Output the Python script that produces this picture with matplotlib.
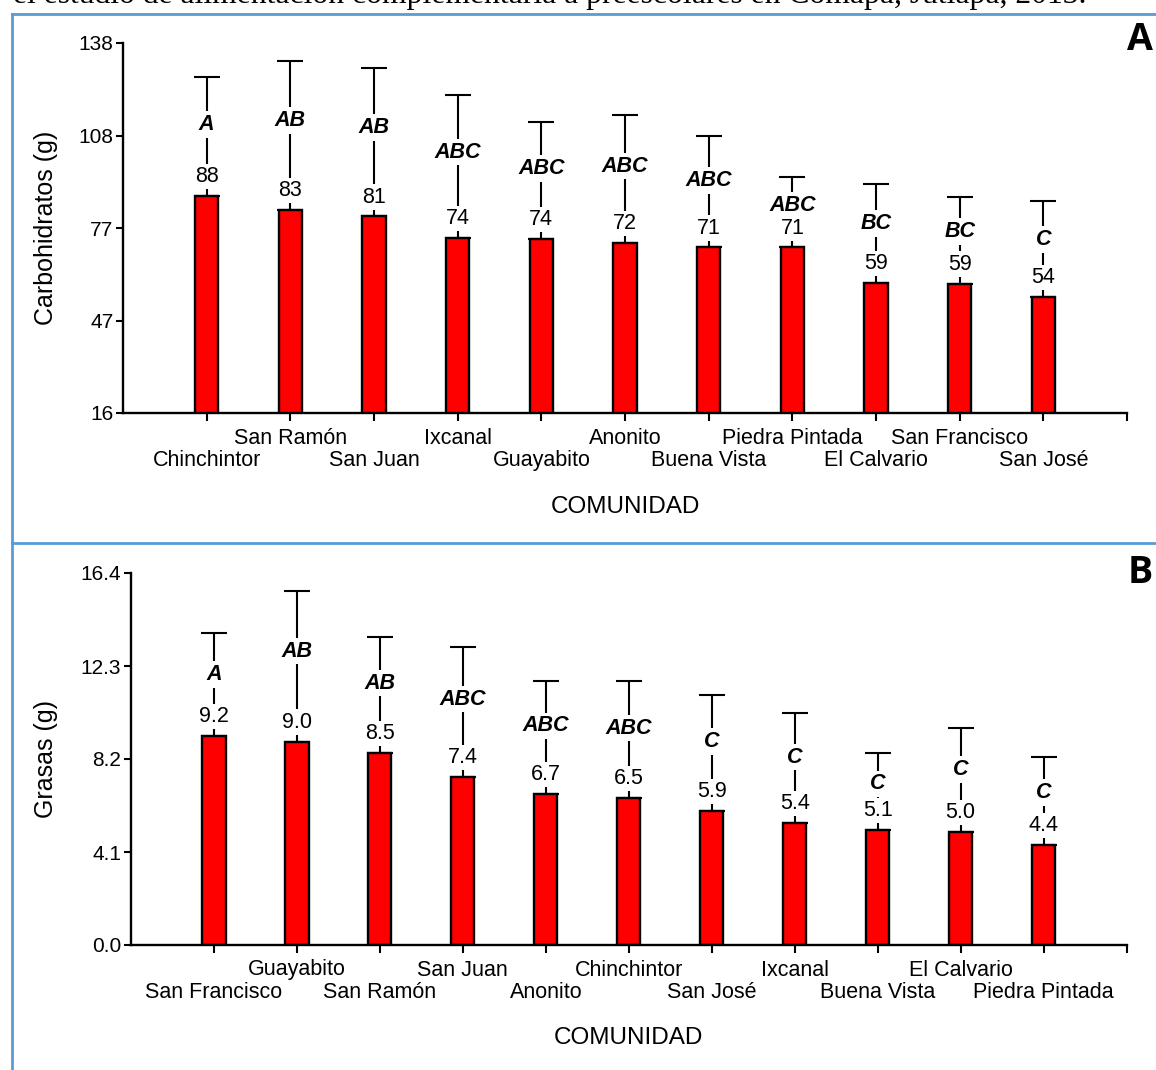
import numpy as np
import matplotlib
matplotlib.use('Agg')
import matplotlib.pyplot as plt
from matplotlib.lines import Line2D

# ---------------- data ----------------
comunidades_a = ['Chinchintor', 'San Ramón', 'San Juan', 'Ixcanal', 'Guayabito', 'Anonito',
                 'Buena Vista', 'Piedra Pintada', 'El Calvario', 'San Francisco', 'San José']
carbo_media = [87.6, 82.9, 80.8, 73.8, 73.5, 72.0, 70.6, 70.6, 58.8, 58.7, 54.2]
carbo_de = [39.2, 49.2, 49.0, 47.0, 38.6, 42.3, 36.9, 23.1, 32.7, 28.5, 31.8]
carbo_letras = ['A', 'AB', 'AB', 'ABC', 'ABC', 'ABC', 'ABC', 'ABC', 'BC', 'BC', 'C']
carbo_ticks = [16, 46.5, 77, 107.5, 138]
carbo_ticklabels = ['16', '47', '77', '108', '138']

comunidades_b = ['San Francisco', 'Guayabito', 'San Ramón', 'San Juan', 'Anonito', 'Chinchintor',
                 'San José', 'Ixcanal', 'Buena Vista', 'El Calvario', 'Piedra Pintada']
grasa_media = [9.22, 8.97, 8.48, 7.40, 6.66, 6.48, 5.91, 5.38, 5.06, 4.99, 4.42]
grasa_de = [4.52, 6.64, 5.11, 5.74, 5.00, 5.14, 5.11, 4.84, 3.40, 4.56, 3.86]
grasa_letras = ['A', 'AB', 'AB', 'ABC', 'ABC', 'ABC', 'C', 'C', 'C', 'C', 'C']
grasa_ticks = [0.0, 4.1, 8.2, 12.3, 16.4]
grasa_ticklabels = ['0.0', '4.1', '8.2', '12.3', '16.4']

caption = 'el estudio de alimentación complementaria a preescolares en Comapa, Jutiapa, 2013.'

plt.rcParams['font.family'] = ['Liberation Sans', 'DejaVu Sans']

W, H = 1156, 1070
fig = plt.figure(figsize=(W / 100, H / 100), dpi=100)


def draw_panel(ax, names, means, sds, letters, ticks, ticklabels, ylabel, fmt):
    x = np.arange(1, len(names) + 1)
    ax.bar(x, means, width=0.28, color='#ff0000', edgecolor='black', linewidth=1.7, zorder=2)
    ax.errorbar(x, means, yerr=[np.zeros(len(sds)), sds], fmt='none', ecolor='black',
                elinewidth=1.5, capsize=9.5, capthick=1.5, zorder=1)

    for xi, m, s, let in zip(x, means, sds, letters):
        # value just above the bar
        ax.annotate(fmt % m, xy=(xi, m), xytext=(0, 10), textcoords='offset points',
                    ha='center', va='baseline', fontsize=15.5, zorder=3,
                    bbox=dict(facecolor='white', edgecolor='none', pad=1.5))
        # Tukey letters up the error bar
        ax.text(xi, m + 0.6 * s, let, ha='center', va='center', fontsize=15.5,
                fontweight='bold', fontstyle='italic', zorder=3,
                bbox=dict(facecolor='white', edgecolor='none', pad=2))

    # community names in two staggered rows
    for i, name in enumerate(names):
        dy = -34.5 if i % 2 == 0 else -18
        ax.annotate(name, xy=(x[i], 0), xycoords=('data', 'axes fraction'),
                    xytext=(0, dy), textcoords='offset points',
                    ha='center', va='center', fontsize=15.5)

    ax.set_xlim(0, 12)
    ax.set_ylim(ticks[0], ticks[-1])
    ax.set_xticks(np.arange(1, 13))
    ax.set_xticklabels([])
    ax.set_yticks(ticks)
    ax.set_yticklabels(ticklabels, fontsize=15)
    ax.tick_params(axis='x', direction='out', length=6, width=1.5)
    ax.tick_params(axis='y', direction='out', length=5, width=1.5, pad=2)
    for side in ['top', 'right']:
        ax.spines[side].set_visible(False)
    for side in ['left', 'bottom']:
        ax.spines[side].set_linewidth(1.7)

    ax.set_ylabel(ylabel, fontsize=18)
    ax.set_xlabel('COMUNIDAD', fontsize=17.5)


# panel A
ax1 = fig.add_axes([123 / W, 1 - 413 / H, 1004 / W, 370 / H])
draw_panel(ax1, comunidades_a, carbo_media, carbo_de, carbo_letras,
           carbo_ticks, carbo_ticklabels, 'Carbohidratos (g)', '%.0f')
ax1.yaxis.set_label_coords((58 - 123) / 1004, 0.5)
ax1.xaxis.set_label_coords(0.5, -83 / 370)

# panel B
ax2 = fig.add_axes([131 / W, 1 - 945 / H, 995.5 / W, 372 / H])
draw_panel(ax2, comunidades_b, grasa_media, grasa_de, grasa_letras,
           grasa_ticks, grasa_ticklabels, 'Grasas (g)', '%.1f')
ax2.yaxis.set_label_coords((58 - 131) / 995.5, 0.5)
ax2.xaxis.set_label_coords(0.5, -82 / 372)

# panel letters
fig.text(1153 / W, 1 - 40 / H, 'A', ha='right', va='center', fontsize=27,
         fontweight='bold', family='Open Sans')
fig.text(1153 / W, 1 - 573 / H, 'B', ha='right', va='center', fontsize=27,
         fontweight='bold', family='Open Sans')

# caption from the document, cut at the top edge as in the source page
fig.text(13 / W, 1 - 3 / H, caption, ha='left', va='baseline', fontsize=22.8,
         family='Liberation Serif')

# blue frame of the document table
frame = '#5b9bd5'
fig.add_artist(Line2D([12 / W, 12 / W], [0, 1 - 14 / H], transform=fig.transFigure,
                      color=frame, linewidth=2))
fig.add_artist(Line2D([12 / W, 1], [1 - 14 / H, 1 - 14 / H], transform=fig.transFigure,
                      color=frame, linewidth=2))
fig.add_artist(Line2D([12 / W, 1], [1 - 543 / H, 1 - 543 / H], transform=fig.transFigure,
                      color=frame, linewidth=2))

fig.savefig('out.png', dpi=100)
